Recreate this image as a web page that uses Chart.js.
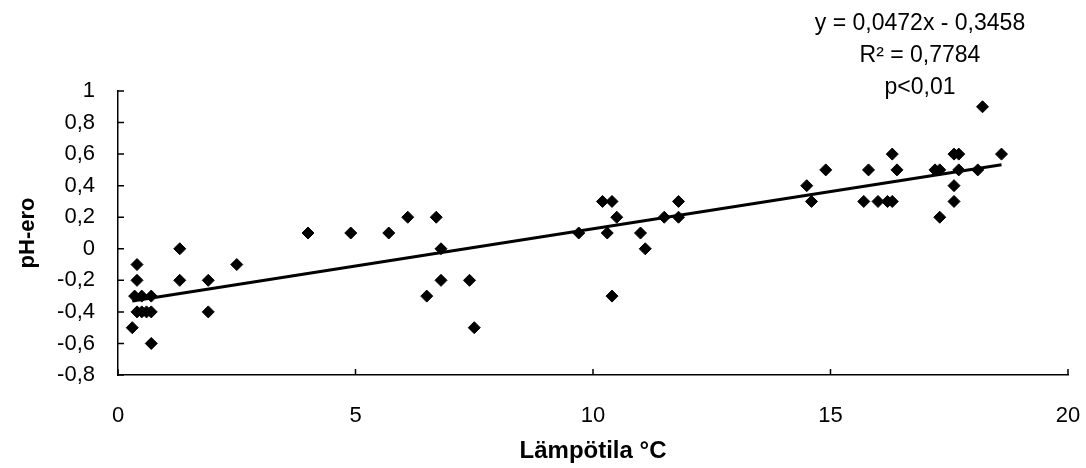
<!DOCTYPE html>
<html>
<head>
<meta charset="utf-8">
<script src="https://cdn.jsdelivr.net/npm/chart.js@4"></script>
<style>
  html, body { margin: 0; padding: 0; background: #fff; }
  #wrap { width: 1086px; height: 468px; }
</style>
</head>
<body>
<div id="wrap"><canvas id="chart" width="1086" height="468"></canvas></div>
<script>
// measured points: water temperature (°C) and pH difference
const temps = [0.3, 0.4, 0.4, 0.35, 0.5, 0.7, 0.4, 0.5, 0.6, 0.7, 0.7,
  1.3, 1.3, 1.9, 1.9, 2.5,
  4.0, 4.9, 5.7, 6.1, 6.7, 6.8, 6.8, 7.4, 6.5, 7.5,
  9.7, 10.2, 10.4, 10.5, 10.3, 11.0, 11.1, 10.4, 11.5, 11.8, 11.8,
  14.5, 14.6, 14.9, 15.7, 15.8, 16.0, 16.2, 16.3, 16.3, 16.4,
  17.2, 17.3, 17.3, 17.6, 17.7, 17.7, 17.6, 17.6, 18.1, 18.2, 18.6];
const phDiff = [-0.5, -0.1, -0.2, -0.3, -0.3, -0.3, -0.4, -0.4, -0.4, -0.4, -0.6,
  0, -0.2, -0.2, -0.4, -0.1,
  0.1, 0.1, 0.1, 0.2, 0.2, 0, -0.2, -0.2, -0.3, -0.5,
  0.1, 0.3, 0.3, 0.2, 0.1, 0.1, 0, -0.3, 0.2, 0.2, 0.3,
  0.4, 0.3, 0.5, 0.3, 0.5, 0.3, 0.3, 0.3, 0.6, 0.5,
  0.5, 0.5, 0.2, 0.6, 0.6, 0.5, 0.4, 0.3, 0.5, 0.9, 0.6];

// linear trend as printed on the chart
const slope = 0.0472;
const intercept = -0.3458;
const trendLabels = ["y = 0,0472x - 0,3458", "R² = 0,7784", "p<0,01"];

const xTicks = [0, 5, 10, 15, 20];
const yMin = -0.8, yMax = 1, yStep = 0.2;

const points = temps.map((t, i) => ({ x: t, y: phDiff[i] }));
const xLo = Math.min(...temps);
const xHi = Math.max(...temps);
const trend = [
  { x: xLo, y: slope * xLo + intercept },
  { x: xHi, y: slope * xHi + intercept }
];

const fmt = v => String(Math.round(v * 10) / 10).replace(".", ",");

Chart.defaults.font.family = "'Liberation Sans', Arial, sans-serif";
Chart.defaults.color = "#000";

// small tick marks pointing into the plot, plus the equation text
const extras = {
  id: "extras",
  afterDraw(chart) {
    const ctx = chart.ctx;
    const xs = chart.scales.x, ys = chart.scales.y;
    const area = chart.chartArea;
    ctx.save();
    ctx.strokeStyle = "#000";
    ctx.lineWidth = 1.5;
    ctx.beginPath();
    xs.ticks.forEach(t => {
      const px = xs.getPixelForValue(t.value);
      ctx.moveTo(px, area.bottom);
      ctx.lineTo(px, area.bottom - 6);
    });
    ys.ticks.forEach(t => {
      const py = ys.getPixelForValue(t.value);
      ctx.moveTo(area.left, py);
      ctx.lineTo(area.left + 6, py);
    });
    ctx.stroke();

    ctx.fillStyle = "#000";
    ctx.font = "23px 'Liberation Sans', Arial, sans-serif";
    ctx.textAlign = "center";
    ctx.textBaseline = "middle";
    trendLabels.forEach((s, i) => ctx.fillText(s, 920, 24 + i * 32));
    ctx.restore();
  }
};

const ctx = document.getElementById("chart").getContext("2d");
new Chart(ctx, {
  type: "scatter",
  data: {
    datasets: [
      {
        label: "pH-ero",
        data: points,
        pointStyle: "rectRot",
        pointRadius: 6,
        pointHoverRadius: 6,
        backgroundColor: "#000",
        borderColor: "#000",
        borderWidth: 1,
        order: 2
      },
      {
        label: "trend",
        type: "line",
        data: trend,
        borderColor: "#000",
        borderWidth: 3,
        pointRadius: 0,
        fill: false,
        order: 1
      }
    ]
  },
  options: {
    responsive: false,
    animation: false,
    layout: { padding: { left: 0, top: 91, right: 18, bottom: 0 } },
    plugins: {
      legend: { display: false },
      tooltip: { enabled: false }
    },
    scales: {
      x: {
        type: "linear",
        min: 0,
        max: 20,
        afterBuildTicks: s => { s.ticks = xTicks.map(v => ({ value: v })); },
        afterFit: s => {
          s.height = 93;
          s.paddingLeft = 0;
          s.paddingRight = 0;
        },
        grid: { display: true, drawOnChartArea: false, drawTicks: false },
        border: { display: true, color: "#000", width: 1.5 },
        ticks: {
          padding: 28,
          font: { size: 22 },
          callback: v => fmt(v)
        },
        title: {
          display: true,
          text: "Lämpötila °C",
          font: { size: 24, weight: "bold" },
          padding: { top: 2, bottom: 2 }
        }
      },
      y: {
        type: "linear",
        min: yMin,
        max: yMax,
        afterFit: s => { s.width = 118; },
        grid: { display: true, drawOnChartArea: false, drawTicks: false },
        border: { display: true, color: "#000", width: 1.5 },
        ticks: {
          stepSize: yStep,
          padding: 23,
          font: { size: 22 },
          callback: v => fmt(v)
        },
        title: {
          display: true,
          text: "pH-ero",
          font: { size: 22, weight: "bold" },
          padding: { top: 15, bottom: 0 }
        }
      }
    }
  },
  plugins: [extras]
});
</script>
</body>
</html>
